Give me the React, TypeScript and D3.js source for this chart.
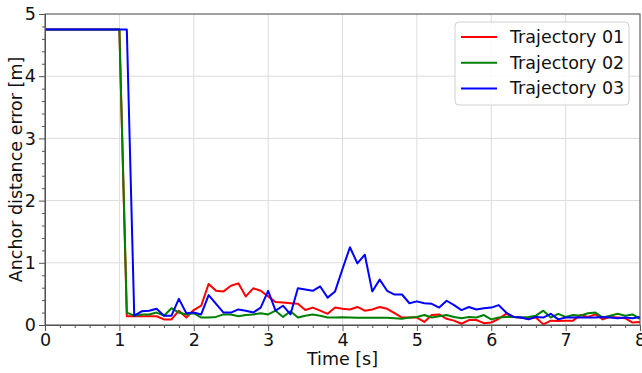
import React from "react";
import * as d3 from "d3";

// sample times (s), one sample every 0.1 s
const time = d3.range(0, 81).map((i) => +(i / 10).toFixed(1));

const trajectory01 = [
  4.75, 4.75, 4.75, 4.75, 4.75, 4.75, 4.75, 4.75, 4.75, 4.75, 4.75,
  0.14, 0.14, 0.14, 0.14, 0.14, 0.09, 0.09, 0.23, 0.12, 0.24,
  0.31, 0.66, 0.55, 0.54, 0.63, 0.67, 0.46, 0.59, 0.55, 0.46,
  0.37, 0.36, 0.35, 0.34, 0.24, 0.28, 0.23, 0.18, 0.28, 0.26,
  0.25, 0.29, 0.23, 0.25, 0.29, 0.26, 0.19, 0.12, 0.12, 0.12,
  0.05, 0.16, 0.17, 0.1, 0.07, 0.02, 0.08, 0.08, 0.03, 0.04,
  0.1, 0.18, 0.13, 0.12, 0.1, 0.12, 0.01, 0.07, 0.065, 0.07,
  0.07, 0.16, 0.13, 0.17, 0.09, 0.13, 0.12, 0.11, 0.04, 0.05,
];

const trajectory02 = [
  4.75, 4.75, 4.75, 4.75, 4.75, 4.75, 4.75, 4.75, 4.75, 4.75, 4.75,
  0.2, 0.15, 0.17, 0.17, 0.2, 0.15, 0.27, 0.2, 0.17, 0.19,
  0.12, 0.12, 0.13, 0.17, 0.17, 0.14, 0.16, 0.17, 0.19, 0.17,
  0.23, 0.13, 0.22, 0.12, 0.15, 0.17, 0.15, 0.12, 0.12, 0.125,
  0.12, 0.115, 0.115, 0.115, 0.115, 0.115, 0.11, 0.1, 0.12, 0.13,
  0.16, 0.12, 0.14, 0.16, 0.13, 0.11, 0.13, 0.12, 0.16, 0.09,
  0.12, 0.13, 0.13, 0.12, 0.13, 0.15, 0.23, 0.12, 0.18, 0.13,
  0.16, 0.15, 0.19, 0.2, 0.12, 0.15, 0.18, 0.15, 0.17, 0.1,
];

const trajectory03 = [
  4.75, 4.75, 4.75, 4.75, 4.75, 4.75, 4.75, 4.75, 4.75, 4.75, 4.75, 4.75,
  0.15, 0.22, 0.23, 0.26, 0.15, 0.15, 0.42, 0.19, 0.2,
  0.17, 0.48, 0.34, 0.2, 0.2, 0.25, 0.23, 0.2, 0.28, 0.55,
  0.23, 0.31, 0.17, 0.59, 0.57, 0.55, 0.62, 0.44, 0.54, 0.9,
  1.25, 0.99, 1.13, 0.54, 0.73, 0.55, 0.49, 0.49, 0.35, 0.38,
  0.35, 0.34, 0.28, 0.39, 0.32, 0.24, 0.29, 0.25, 0.27, 0.28,
  0.32, 0.2, 0.13, 0.12, 0.09, 0.13, 0.12, 0.18, 0.09, 0.12,
  0.12, 0.12, 0.12, 0.12, 0.13, 0.12, 0.11, 0.12, 0.11, 0.13,
];

const seriesNames = ["Trajectory 01", "Trajectory 02", "Trajectory 03"];
const seriesColors = ["#ff0000", "#008000", "#0000ff"];
const xTicks = [0, 1, 2, 3, 4, 5, 6, 7, 8];
const yTicks = [0, 1, 2, 3, 4, 5];

function Chart() {
  const ref = React.useRef<SVGSVGElement>(null);
  const width = 642;
  const height = 373;
  const margin = { left: 45, right: 2, top: 14, bottom: 48 };

  React.useEffect(() => {
    const svg = d3.select(ref.current);
    svg.selectAll("*").remove();
    const font = "DejaVu Sans, sans-serif";
    const fontSize = "17.5px";

    const x = d3
      .scaleLinear()
      .domain([0, 8])
      .range([margin.left, width - margin.right]);
    const y = d3
      .scaleLinear()
      .domain([0, 5])
      .range([height - margin.bottom, margin.top]);

    // grid
    const grid = svg.append("g");
    grid
      .selectAll("line.gx")
      .data(xTicks)
      .enter()
      .append("line")
      .attr("x1", (d) => x(d))
      .attr("x2", (d) => x(d))
      .attr("y1", y(0))
      .attr("y2", y(5))
      .attr("stroke", "#dcdcdc")
      .attr("stroke-width", 1);
    grid
      .selectAll("line.gy")
      .data(yTicks)
      .enter()
      .append("line")
      .attr("x1", x(0))
      .attr("x2", x(8))
      .attr("y1", (d) => y(d))
      .attr("y2", (d) => y(d))
      .attr("stroke", "#dcdcdc")
      .attr("stroke-width", 1);

    // lines
    const allSeries = [trajectory01, trajectory02, trajectory03];
    const line = d3
      .line<number>()
      .x((d, i) => x(time[i]))
      .y((d) => y(d));
    allSeries.forEach((s, k) => {
      svg
        .append("path")
        .datum(s)
        .attr("d", line)
        .attr("fill", "none")
        .attr("stroke", seriesColors[k])
        .attr("stroke-width", 2)
        .attr("stroke-linejoin", "round");
    });

    // axes
    const xAxis = d3
      .axisBottom(x)
      .tickValues(xTicks)
      .tickSize(6)
      .tickPadding(3)
      .tickFormat(d3.format("d"));
    const xMinor = d3
      .axisBottom(x)
      .tickValues(d3.range(0, 41).map((i) => i / 5).filter((v) => v % 1 !== 0))
      .tickSize(3)
      .tickFormat(() => "");
    const yAxis = d3
      .axisLeft(y)
      .tickValues(yTicks)
      .tickSize(6)
      .tickPadding(3)
      .tickFormat(d3.format("d"));
    const yMinor = d3
      .axisLeft(y)
      .tickValues(d3.range(0, 26).map((i) => i / 5).filter((v) => v % 1 !== 0))
      .tickSize(3)
      .tickFormat(() => "");

    const gx = svg
      .append("g")
      .attr("transform", `translate(0, ${y(0)})`)
      .call(xAxis);
    svg
      .append("g")
      .attr("transform", `translate(0, ${y(0)})`)
      .call(xMinor)
      .select(".domain")
      .remove();
    const gy = svg
      .append("g")
      .attr("transform", `translate(${x(0)}, 0)`)
      .call(yAxis);
    svg
      .append("g")
      .attr("transform", `translate(${x(0)}, 0)`)
      .call(yMinor)
      .select(".domain")
      .remove();

    svg.selectAll(".tick line").attr("stroke", "#555");
    svg.selectAll(".domain").attr("stroke", "#555");
    [gx, gy].forEach((g) =>
      g
        .selectAll("text")
        .style("font-family", font)
        .style("font-size", fontSize)
        .attr("fill", "#111")
    );

    // top and right spines
    svg
      .append("rect")
      .attr("x", x(0))
      .attr("y", y(5))
      .attr("width", x(8) - x(0))
      .attr("height", y(0) - y(5))
      .attr("fill", "none")
      .attr("stroke", "#555")
      .attr("stroke-width", 1);

    // axis labels
    svg
      .append("text")
      .attr("x", (x(0) + x(8)) / 2)
      .attr("y", 365)
      .attr("text-anchor", "middle")
      .style("font-family", font)
      .style("font-size", fontSize)
      .attr("fill", "#111")
      .text("Time [s]");
    svg
      .append("text")
      .attr("transform", `translate(22, ${(y(0) + y(5)) / 2}) rotate(-90)`)
      .attr("text-anchor", "middle")
      .style("font-family", font)
      .style("font-size", fontSize)
      .attr("fill", "#111")
      .text("Anchor distance error [m]");

    // legend
    const legend = svg.append("g").attr("transform", "translate(455, 22)");
    legend
      .append("rect")
      .attr("width", 174)
      .attr("height", 83)
      .attr("rx", 4)
      .attr("fill", "rgba(255,255,255,0.85)")
      .attr("stroke", "#d0d0d0");
    const item = legend
      .selectAll("g.item")
      .data(seriesNames)
      .enter()
      .append("g")
      .attr("transform", (d, i) => `translate(0, ${15 + i * 25.7})`);
    item
      .append("line")
      .attr("x1", 6)
      .attr("x2", 42)
      .attr("stroke", (d, i) => seriesColors[i])
      .attr("stroke-width", 2);
    item
      .append("text")
      .attr("x", 55)
      .attr("y", 6)
      .style("font-family", font)
      .style("font-size", fontSize)
      .attr("fill", "#111")
      .text((d) => d);
  }, []);

  return (
    <svg
      ref={ref}
      width={width}
      height={height}
      style={{ position: "absolute", left: 0, top: 0, background: "#fff" }}
    />
  );
}

export default function App() {
  return <Chart />;
}
